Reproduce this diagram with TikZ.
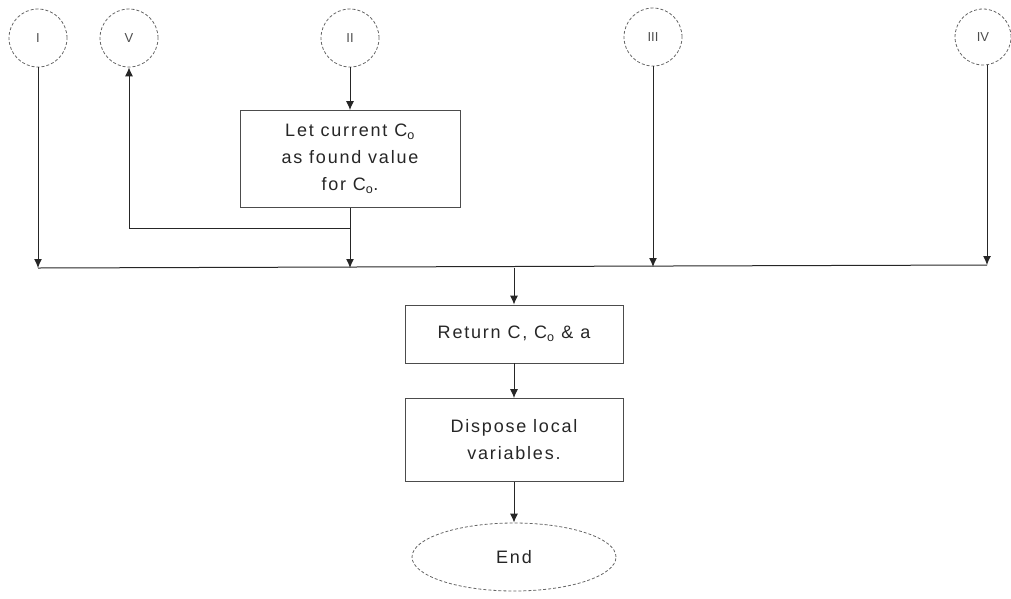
\documentclass[tikz,border=0pt]{standalone}
\usepackage{fontspec}
\setmainfont{Liberation Sans}
\newfontfamily\spacedfont[LetterSpace=10]{Liberation Sans}
\usetikzlibrary{arrows.meta,shapes.geometric}
\begin{document}
\begin{tikzpicture}[x=1pt,y=-1pt,
  conn/.style={circle,draw=black!60,densely dashed,line width=0.8pt,minimum size=58pt,inner sep=0pt,font=\fontsize{13}{15}\selectfont,text=black!70},
  procbox/.style={rectangle,draw=black!70,line width=0.8pt,inner sep=0pt,align=center,font=\spacedfont\fontsize{18}{27}\selectfont,text=black!85},
  endshape/.style={ellipse,draw=black!60,densely dashed,line width=0.8pt,inner sep=0pt,font=\spacedfont\fontsize{18}{22}\selectfont,text=black!85},
  flow/.style={line width=1pt,black!85,-{Latex[length=9pt,width=8pt]}},
  plain/.style={line width=1pt,black!85}]
\useasboundingbox (0,0) rectangle (1011,598);
\node[conn] (cI) at (38,38) {I};
\node[conn] (cV) at (129,38) {V};
\node[conn] (cII) at (350,38) {II};
\node[conn] (cIII) at (653,37) {III};
\node[conn,minimum size=56pt] (cIV) at (983,37) {IV};
\node[procbox,minimum width=220pt,minimum height=97pt] (let) at (350,159) {Let current C\textsubscript{o}\\as found value\\for C\textsubscript{o}.};
\node[procbox,minimum width=218pt,minimum height=58pt] (ret) at (514,334) {Return C, C\textsubscript{o} \& a};
\node[procbox,minimum width=218pt,minimum height=83pt] (disp) at (514,440) {Dispose local\\variables.};
\node[endshape,minimum width=204pt,minimum height=68pt] (end) at (514,557) {End};
\coordinate (jI) at (38,268);
\coordinate (jII) at (350,268);
\coordinate (jIII) at (653,267);
\coordinate (jIV) at (987,265);
\coordinate (jM) at (514,268);
\coordinate (br) at (350,228);
\coordinate (brV) at (129,228);
\draw[flow] (cII) -- (let);
\draw[flow] (cI) -- (jI);
\draw[flow] (let) -- (jII);
\draw[flow] (cIII.south) -- (jIII);
\draw[flow] (cIV.south -| jIV) -- (jIV);
\draw[plain] (br) -- (brV);
\draw[flow] (brV) -- (cV);
\draw[plain] (jI) -- (jIV);
\draw[flow] (jM) -- (ret);
\draw[flow] (ret) -- (disp);
\draw[flow] (disp) -- (end);
\end{tikzpicture}
\end{document}
